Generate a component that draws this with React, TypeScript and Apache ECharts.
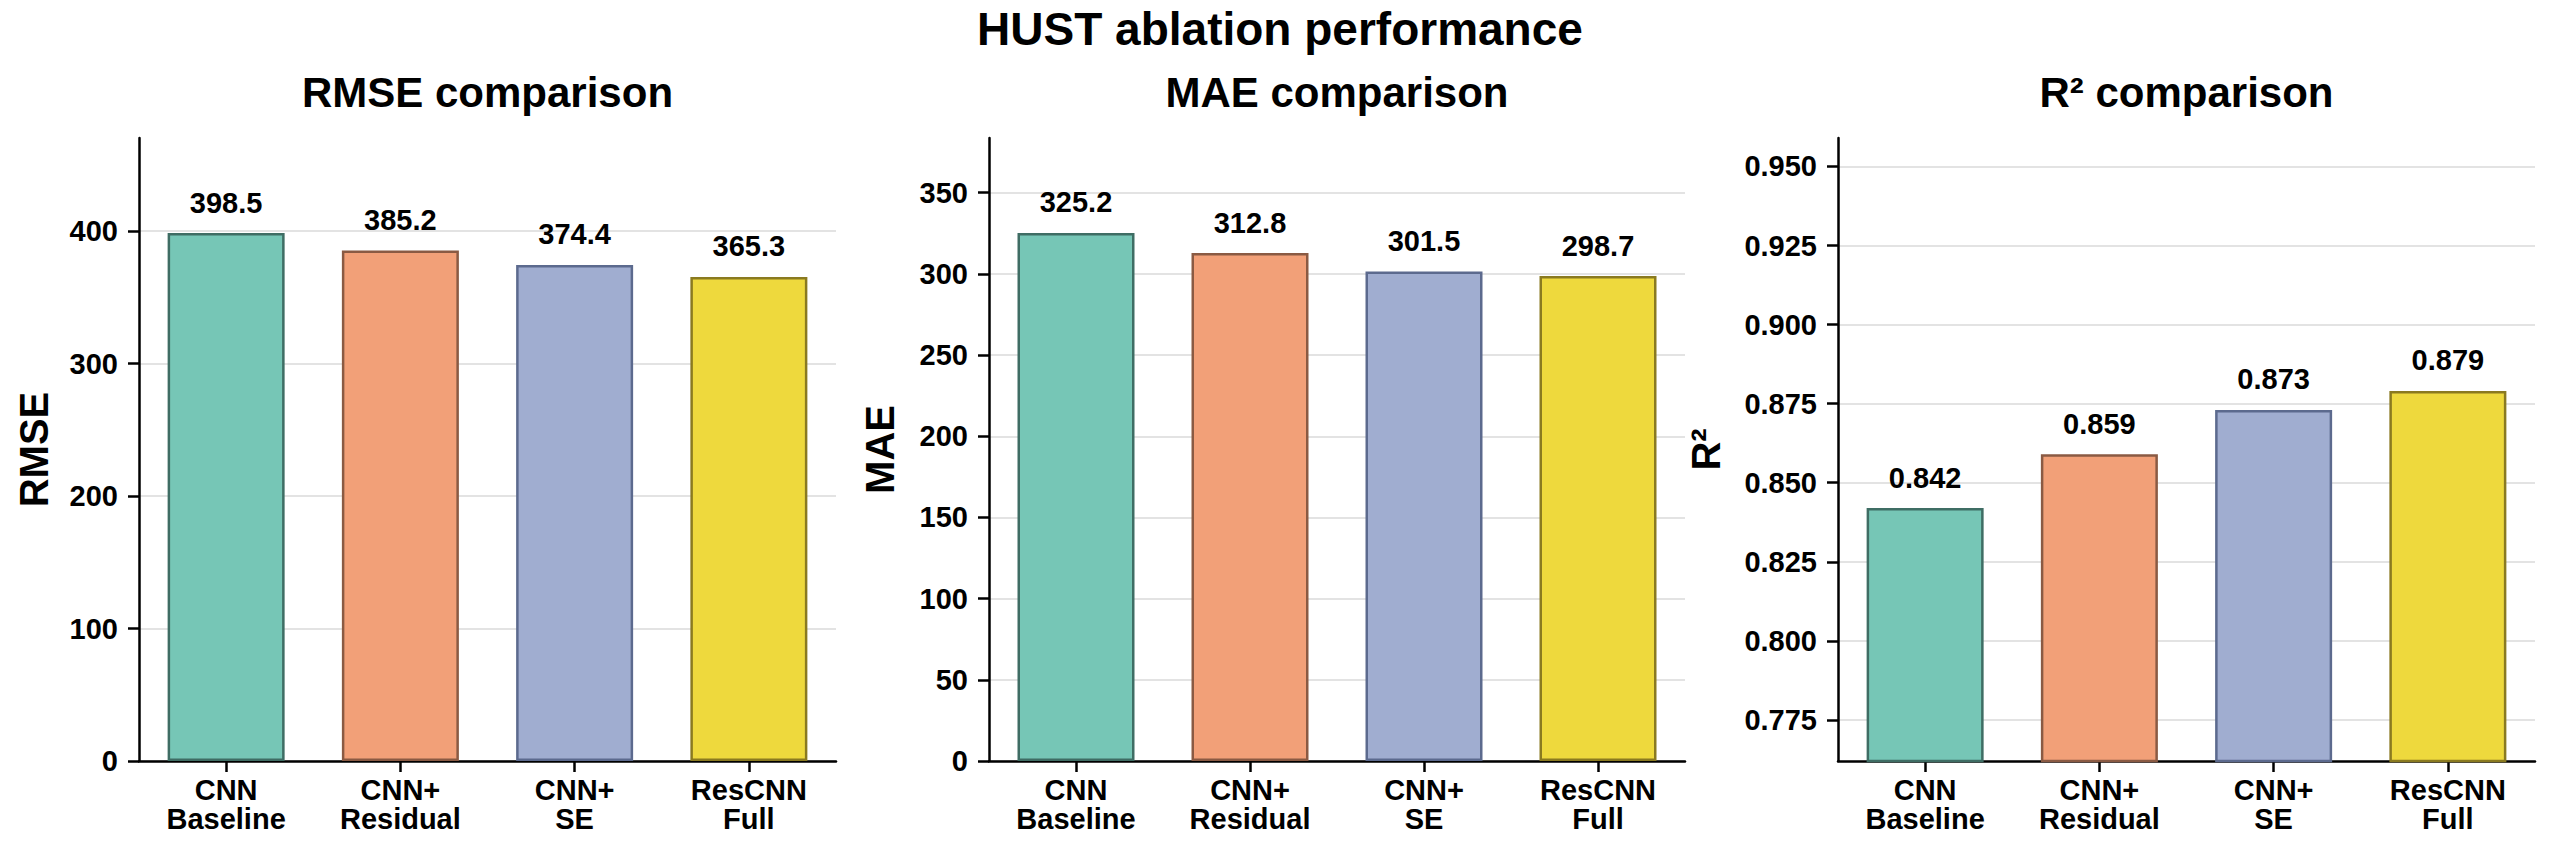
import React, { useEffect, useRef } from 'react';
import * as echarts from 'echarts';

const categories = ['CNN\nBaseline', 'CNN+\nResidual', 'CNN+\nSE', 'ResCNN\nFull'];
const rmseValues = [398.5, 385.2, 374.4, 365.3];
const maeValues = [325.2, 312.8, 301.5, 298.7];
const r2Values = [0.842, 0.859, 0.873, 0.879];
const rmseTicks = [0, 100, 200, 300, 400];
const maeTicks = [0, 50, 100, 150, 200, 250, 300, 350];
const r2Ticks = [0.775, 0.8, 0.825, 0.85, 0.875, 0.9, 0.925, 0.95];
const rmseRange = [0, 470.2];
const maeRange = [0, 383.7];
const r2Range = [0.762, 0.959];
const mainTitle = 'HUST ablation performance';
const panelTitles = ['RMSE comparison', 'MAE comparison', 'R² comparison'];
const axisNames = ['RMSE', 'MAE', 'R²'];

const faceColors = ['#76c6b6', '#f2a078', '#a0add0', '#eed93d'];
const edgeColors = ['#3f6d64', '#8a5a43', '#5c6a8e', '#8a7a20'];

const FONT = '"Liberation Sans", Arial, Helvetica, sans-serif';

export default function App() {
  const ref = useRef<HTMLDivElement>(null);

  useEffect(() => {
    if (!ref.current) return;
    const chart = echarts.init(ref.current, undefined, { renderer: 'svg' });

    const panels = [
      { values: rmseValues, ticks: rmseTicks, range: rmseRange, dec: 1, tickDec: 0, left: 139, width: 697, nameGap: 85 },
      { values: maeValues, ticks: maeTicks, range: maeRange, dec: 1, tickDec: 0, left: 989, width: 696, nameGap: 89 },
      { values: r2Values, ticks: r2Ticks, range: r2Range, dec: 3, tickDec: 3, left: 1838, width: 697, nameGap: 112 },
    ];

    const top = 138;
    const height = 623;

    const option: any = {
      animation: false,
      backgroundColor: '#ffffff',
      title: [
        {
          text: mainTitle,
          left: 1280,
          top: 6,
          textAlign: 'center',
          padding: 0,
          textStyle: { fontFamily: FONT, fontWeight: 'bold', fontSize: 46, color: '#000' },
        },
        ...panels.map((p, i) => ({
          text: panelTitles[i],
          left: p.left + p.width / 2,
          top: 71,
          textAlign: 'center',
          padding: 0,
          textStyle: { fontFamily: FONT, fontWeight: 'bold', fontSize: 42, color: '#000' },
        })),
      ],
      grid: panels.map((p) => ({ left: p.left, width: p.width, top, height, containLabel: false })),
      xAxis: panels.map((p, i) => ({
        type: 'category',
        gridIndex: i,
        data: categories,
        boundaryGap: true,
        axisLine: { show: true, lineStyle: { color: '#000', width: 2.5 } },
        axisTick: { show: true, alignWithLabel: true, length: 11, lineStyle: { color: '#000', width: 2.5 } },
        axisLabel: {
          margin: 14,
          fontFamily: FONT,
          fontWeight: 'bold',
          fontSize: 29,
          lineHeight: 29,
          color: '#000',
          interval: 0,
        },
        splitLine: { show: false },
      })),
      yAxis: panels.map((p, i) => ({
        type: 'value',
        gridIndex: i,
        min: p.range[0],
        max: p.range[1],
        name: axisNames[i],
        nameLocation: 'middle',
        nameGap: p.nameGap,
        nameRotate: 90,
        nameTextStyle: { fontFamily: FONT, fontWeight: 'bold', fontSize: 40, color: '#000' },
        axisLine: { show: true, lineStyle: { color: '#000', width: 2.5 } },
        axisTick: {
          show: true,
          length: 11,
          customValues: p.ticks,
          lineStyle: { color: '#000', width: 2.5 },
        },
        axisLabel: {
          margin: 21,
          customValues: p.ticks,
          fontFamily: FONT,
          fontWeight: 'bold',
          fontSize: 29,
          color: '#000',
          formatter: (v: number) => v.toFixed(p.tickDec),
        },
        splitLine: { show: true, lineStyle: { color: '#e3e3e3', width: 2 } },
      })),
      series: panels.map((p, i) => ({
        type: 'bar',
        xAxisIndex: i,
        yAxisIndex: i,
        barWidth: 117,
        data: p.values.map((v, j) => ({
          value: v,
          itemStyle: { color: faceColors[j], borderColor: edgeColors[j], borderWidth: 2.5 },
        })),
        label: {
          show: true,
          position: 'top',
          distance: 16,
          fontFamily: FONT,
          fontWeight: 'bold',
          fontSize: 29,
          color: '#000',
          formatter: (params: any) => Number(params.value).toFixed(p.dec),
        },
      })),
    };

    chart.setOption(option);
    return () => {
      chart.dispose();
    };
  }, []);

  return (
    <div
      ref={ref}
      style={{ position: 'fixed', left: 0, top: 0, width: 2550, height: 844, background: '#fff' }}
    />
  );
}
